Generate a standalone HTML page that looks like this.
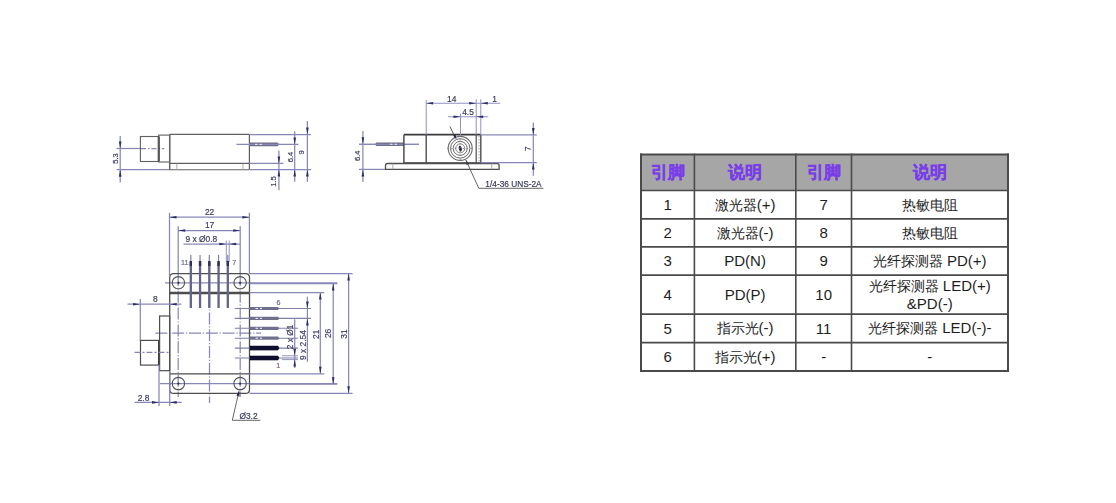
<!DOCTYPE html>
<html><head><meta charset="utf-8">
<style>
html,body{margin:0;padding:0;background:#fff;width:1116px;height:503px;overflow:hidden;position:relative}
body{font-family:"Liberation Sans",sans-serif;}
#drw{position:absolute;left:0;top:0;filter:blur(0.7px)}
.hd,.bd{position:absolute;display:flex;align-items:center;justify-content:center;text-align:center}
.hd{color:#7a3ee8;font-weight:bold;font-size:17px;-webkit-text-stroke:0.35px #7a3ee8}
.bd{color:#1e1e1e;font-size:15px;line-height:17px} .c{font-size:14.3px}
</style></head><body>
<svg id="drw" width="1116" height="503" viewBox="0 0 1116 503" font-family="Liberation Sans, sans-serif"><line x1="116.6" y1="148.5" x2="141" y2="148.5" stroke="#8888b8" stroke-width="1.25"/>
<line x1="141" y1="148.5" x2="164.3" y2="148.5" stroke="#8888b8" stroke-width="1.25" stroke-dasharray="5,2,1.5,2"/>
<line x1="116.6" y1="169.7" x2="170" y2="169.7" stroke="#8888b8" stroke-width="1.25"/>
<line x1="120.2" y1="136" x2="120.2" y2="182.5" stroke="#8888b8" stroke-width="1.25"/>
<polygon points="120.2,148.5 118.9,141.5 121.5,141.5" fill="#2c2c66"/>
<polygon points="120.2,169.7 118.9,176.7 121.5,176.7" fill="#2c2c66"/>
<text x="115.3" y="158.5" font-size="7.6" fill="#3a3a5e" stroke="#3a3a5e" stroke-width="0.18" text-anchor="middle" dominant-baseline="central" transform="rotate(-90 115.3 158.5)">5.3</text>
<rect x="140.4" y="136.5" width="18.3" height="25.0" rx="0" stroke="#606060" stroke-width="1.1" fill="none"/>
<line x1="158.7" y1="136.5" x2="158.7" y2="161.5" stroke="#333" stroke-width="2"/>
<rect x="158.7" y="135.1" width="11.0" height="26.9" rx="0" stroke="#606060" stroke-width="1.1" fill="none"/>
<line x1="169.7" y1="134.4" x2="169.7" y2="169.7" stroke="#666" stroke-width="1.5"/>
<line x1="169.7" y1="134.4" x2="249.4" y2="134.4" stroke="#606060" stroke-width="1.1"/>
<line x1="169.7" y1="163.4" x2="249.4" y2="163.4" stroke="#606060" stroke-width="1.1"/>
<line x1="169.7" y1="169.7" x2="249.4" y2="169.7" stroke="#606060" stroke-width="1.1"/>
<line x1="249.4" y1="134.4" x2="249.4" y2="169.7" stroke="#606060" stroke-width="1.2"/>
<line x1="176.8" y1="163.4" x2="176.8" y2="169.7" stroke="#999" stroke-width="0.8"/>
<line x1="243" y1="163.4" x2="243" y2="169.7" stroke="#999" stroke-width="0.8"/>
<path d="M249.4,142.6 H277.6 Q280,144.4 277.6,146.2 H249.4 Z" stroke="none" stroke-width="0" fill="#6e6e86" />
<line x1="236.4" y1="144.4" x2="298.4" y2="144.4" stroke="#8888b8" stroke-width="1.25"/>
<line x1="255" y1="144.4" x2="257.5" y2="144.4" stroke="#e6e6ee" stroke-width="1.1"/>
<line x1="259.5" y1="144.4" x2="262" y2="144.4" stroke="#e6e6ee" stroke-width="1.1"/>
<line x1="249.4" y1="134.5" x2="310.8" y2="134.5" stroke="#8888b8" stroke-width="1.25"/>
<line x1="249.4" y1="163.4" x2="283.4" y2="163.4" stroke="#8888b8" stroke-width="1.25"/>
<line x1="249.4" y1="169.6" x2="311.2" y2="169.6" stroke="#8888b8" stroke-width="1.25"/>
<line x1="278.9" y1="150.4" x2="278.9" y2="190.3" stroke="#8888b8" stroke-width="1.25"/>
<polygon points="278.9,163.4 277.6,156.4 280.2,156.4" fill="#2c2c66"/>
<polygon points="278.9,169.6 277.6,176.6 280.2,176.6" fill="#2c2c66"/>
<line x1="294.7" y1="131.3" x2="294.7" y2="181.8" stroke="#8888b8" stroke-width="1.25"/>
<polygon points="294.7,144.4 293.4,137.4 296.0,137.4" fill="#2c2c66"/>
<polygon points="294.7,169.6 293.4,176.6 296.0,176.6" fill="#2c2c66"/>
<line x1="307.4" y1="121" x2="307.4" y2="182" stroke="#8888b8" stroke-width="1.25"/>
<polygon points="307.4,134.5 306.1,127.5 308.7,127.5" fill="#2c2c66"/>
<polygon points="307.4,169.6 306.1,176.6 308.7,176.6" fill="#2c2c66"/>
<text x="273.6" y="181.5" font-size="7.6" fill="#3a3a5e" stroke="#3a3a5e" stroke-width="0.18" text-anchor="middle" dominant-baseline="central" transform="rotate(-90 273.6 181.5)">1.5</text>
<text x="290" y="157" font-size="7.6" fill="#3a3a5e" stroke="#3a3a5e" stroke-width="0.18" text-anchor="middle" dominant-baseline="central" transform="rotate(-90 290 157)">6.4</text>
<text x="301.7" y="152.5" font-size="7.6" fill="#3a3a5e" stroke="#3a3a5e" stroke-width="0.18" text-anchor="middle" dominant-baseline="central" transform="rotate(-90 301.7 152.5)">9</text>
<line x1="362.9" y1="131.1" x2="362.9" y2="181.9" stroke="#8888b8" stroke-width="1.25"/>
<polygon points="362.9,144.3 361.6,137.3 364.2,137.3" fill="#2c2c66"/>
<polygon points="362.9,169.4 361.6,176.4 364.2,176.4" fill="#2c2c66"/>
<text x="358" y="155.8" font-size="7.6" fill="#3a3a5e" stroke="#3a3a5e" stroke-width="0.18" text-anchor="middle" dominant-baseline="central" transform="rotate(-90 358 155.8)">6.4</text>
<line x1="359" y1="144.3" x2="419" y2="144.3" stroke="#8888b8" stroke-width="1.25"/>
<line x1="359" y1="169.4" x2="386" y2="169.4" stroke="#8888b8" stroke-width="1.25"/>
<path d="M403.9,142.5 H376.4 Q374,144.3 376.4,146.1 H403.9 Z" stroke="none" stroke-width="0" fill="#6e6e86" />
<line x1="359" y1="144.3" x2="419" y2="144.3" stroke="#8888b8" stroke-width="1.25"/>
<line x1="390" y1="144.3" x2="392.5" y2="144.3" stroke="#e6e6ee" stroke-width="1.1"/>
<line x1="394.5" y1="144.3" x2="397" y2="144.3" stroke="#e6e6ee" stroke-width="1.1"/>
<line x1="403.9" y1="134.7" x2="480.8" y2="134.7" stroke="#3a3a3a" stroke-width="1.8"/>
<line x1="403.9" y1="163.1" x2="480.8" y2="163.1" stroke="#3a3a3a" stroke-width="1.8"/>
<line x1="403.9" y1="134.7" x2="403.9" y2="163.1" stroke="#4d4d4d" stroke-width="1.5"/>
<line x1="426.2" y1="134.7" x2="426.2" y2="163.1" stroke="#4d4d4d" stroke-width="1.4"/>
<line x1="476.2" y1="134.7" x2="476.2" y2="163.1" stroke="#4d4d4d" stroke-width="1.2"/>
<line x1="480.8" y1="134.7" x2="480.8" y2="163.1" stroke="#4d4d4d" stroke-width="1.4"/>
<line x1="479" y1="136" x2="479" y2="162" stroke="#888" stroke-width="0.8" stroke-dasharray="1.5,1.5"/>
<path d="M385.5,169.4 V165.6 Q385.5,163.5 387.6,163.5 H497 Q499.1,163.5 499.1,165.6 V169.4 Z" stroke="#4d4d4d" stroke-width="1.3" fill="none" />
<line x1="392.9" y1="163.5" x2="392.9" y2="169.4" stroke="#999" stroke-width="0.8"/>
<line x1="491.7" y1="163.5" x2="491.7" y2="169.4" stroke="#999" stroke-width="0.8"/>
<circle cx="460.2" cy="148.4" r="12" stroke="#6a6a6a" stroke-width="1.1" fill="none"/>
<circle cx="460.2" cy="148.4" r="9.7" stroke="#6a6a6a" stroke-width="1.0" fill="none"/>
<circle cx="460.2" cy="148.4" r="7" stroke="#6a6a6a" stroke-width="1.0" fill="none"/>
<circle cx="460.2" cy="148.4" r="4.5" stroke="#777" stroke-width="0.9" fill="none"/>
<ellipse cx="460.3" cy="148.6" rx="1.5" ry="2.9" transform="rotate(-15 460.3 148.6)" fill="#202040"/>
<line x1="447" y1="148.4" x2="474" y2="148.4" stroke="#777" stroke-width="0.8" stroke-dasharray="1.5,2.4"/>
<line x1="460.2" y1="135" x2="460.2" y2="162" stroke="#777" stroke-width="0.8" stroke-dasharray="1.5,2.4"/>
<line x1="449.9" y1="126.5" x2="455.5" y2="138" stroke="#444" stroke-width="0.9"/>
<polygon points="456.5,139.5 453.05,135.62 455.57,134.39" fill="#222244"/>
<polygon points="465.8,159.9 469.18,163.84 466.65,165.02" fill="#222244"/>
<path d="M465.8,159.9 L478.8,188.3 H543.4" stroke="#555" stroke-width="0.9" fill="none" />
<text x="513.5" y="183.6" font-size="8.3" fill="#3a3a5a" stroke="#3a3a5a" stroke-width="0.18" text-anchor="middle" dominant-baseline="central">1/4-36 UNS-2A</text>
<line x1="426.2" y1="100" x2="426.2" y2="134.7" stroke="#9090c0" stroke-width="1.0"/>
<line x1="476.2" y1="99.3" x2="476.2" y2="134.7" stroke="#9090c0" stroke-width="1.0"/>
<line x1="480.8" y1="99.3" x2="480.8" y2="134.7" stroke="#9090c0" stroke-width="1.0"/>
<line x1="460.5" y1="113.5" x2="460.5" y2="136" stroke="#9090c0" stroke-width="1.0"/>
<line x1="426.2" y1="103.3" x2="500.2" y2="103.3" stroke="#9090c0" stroke-width="1.1"/>
<polygon points="426.2,103.3 433.2,102.0 433.2,104.6" fill="#2c2c66"/>
<polygon points="476.2,103.3 469.2,102.0 469.2,104.6" fill="#2c2c66"/>
<polygon points="480.8,103.3 487.8,102.0 487.8,104.6" fill="#2c2c66"/>
<text x="451.7" y="99" font-size="8.4" fill="#3a3a5e" stroke="#3a3a5e" stroke-width="0.18" text-anchor="middle" dominant-baseline="central">14</text>
<text x="494.6" y="98.8" font-size="8.4" fill="#3a3a5e" stroke="#3a3a5e" stroke-width="0.18" text-anchor="middle" dominant-baseline="central">1</text>
<line x1="448" y1="116.8" x2="488.3" y2="116.8" stroke="#9090c0" stroke-width="1.1"/>
<polygon points="460.5,116.8 453.5,115.5 453.5,118.1" fill="#2c2c66"/>
<polygon points="476.2,116.8 483.2,115.5 483.2,118.1" fill="#2c2c66"/>
<text x="468" y="112.3" font-size="8.4" fill="#3a3a5e" stroke="#3a3a5e" stroke-width="0.18" text-anchor="middle" dominant-baseline="central">4.5</text>
<line x1="480.8" y1="134.9" x2="536.8" y2="134.9" stroke="#8888b8" stroke-width="1.25"/>
<line x1="480.8" y1="162.6" x2="536.9" y2="162.6" stroke="#8888b8" stroke-width="1.25"/>
<line x1="533.3" y1="122.4" x2="533.3" y2="175.8" stroke="#8888b8" stroke-width="1.25"/>
<polygon points="533.3,134.9 532.0,127.9 534.6,127.9" fill="#2c2c66"/>
<polygon points="533.3,162.6 532.0,169.6 534.6,169.6" fill="#2c2c66"/>
<text x="528" y="148.6" font-size="8.4" fill="#3a3a5e" stroke="#3a3a5e" stroke-width="0.18" text-anchor="middle" dominant-baseline="central" transform="rotate(-90 528 148.6)">7</text>
<line x1="165" y1="282.9" x2="337.3" y2="282.9" stroke="#8888b8" stroke-width="1.25"/>
<line x1="160" y1="383.7" x2="337.3" y2="383.7" stroke="#8888b8" stroke-width="1.25"/>
<line x1="178.2" y1="226.2" x2="178.2" y2="274" stroke="#8888b8" stroke-width="1.25"/>
<line x1="240.2" y1="226.2" x2="240.2" y2="274" stroke="#8888b8" stroke-width="1.25"/>
<line x1="178.2" y1="274" x2="178.2" y2="397" stroke="#8888b8" stroke-width="1.25" stroke-dasharray="12,1.8,1.2,1.8"/>
<line x1="240.2" y1="274" x2="240.2" y2="397" stroke="#8888b8" stroke-width="1.25" stroke-dasharray="12,1.8,1.2,1.8"/>
<line x1="209.5" y1="262" x2="209.5" y2="403" stroke="#8888b8" stroke-width="1.25" stroke-dasharray="12,1.8,1.2,1.8"/>
<line x1="155.4" y1="333" x2="261" y2="333" stroke="#8888b8" stroke-width="1.25" stroke-dasharray="12,1.8,1.2,1.8"/>
<line x1="169.7" y1="292.4" x2="169.7" y2="373.8" stroke="#4d4d4d" stroke-width="1.3"/>
<line x1="249.5" y1="292.4" x2="249.5" y2="373.8" stroke="#4d4d4d" stroke-width="1.3"/>
<path d="M169.7,292.4 V277.6 Q169.7,273.6 173.7,273.6 H245.5 Q249.5,273.6 249.5,277.6 V292.4 Z" stroke="#4d4d4d" stroke-width="1.25" fill="none" />
<path d="M169.7,373.8 V389.4 Q169.7,393.4 173.7,393.4 H245.5 Q249.5,393.4 249.5,389.4 V373.8 Z" stroke="#4d4d4d" stroke-width="1.25" fill="none" />
<line x1="169.7" y1="293.6" x2="249.5" y2="293.6" stroke="#4d4d4d" stroke-width="1.2"/>
<circle cx="178.4" cy="282.8" r="6.2" stroke="#555" stroke-width="1.15" fill="none"/>
<circle cx="178.4" cy="282.8" r="0.9" stroke="#333" stroke-width="0.5" fill="#333"/>
<circle cx="240.1" cy="282.8" r="6.2" stroke="#555" stroke-width="1.15" fill="none"/>
<circle cx="240.1" cy="282.8" r="0.9" stroke="#333" stroke-width="0.5" fill="#333"/>
<circle cx="178.4" cy="383.6" r="6.2" stroke="#555" stroke-width="1.15" fill="none"/>
<circle cx="178.4" cy="383.6" r="0.9" stroke="#333" stroke-width="0.5" fill="#333"/>
<circle cx="240.1" cy="383.6" r="6.2" stroke="#555" stroke-width="1.15" fill="none"/>
<circle cx="240.1" cy="383.6" r="0.9" stroke="#333" stroke-width="0.5" fill="#333"/>
<line x1="169.5" y1="212.7" x2="169.5" y2="277" stroke="#8888b8" stroke-width="1.25"/>
<line x1="249.4" y1="212.7" x2="249.4" y2="274" stroke="#8888b8" stroke-width="1.25"/>
<line x1="169.5" y1="217.2" x2="249.4" y2="217.2" stroke="#8888b8" stroke-width="1.25"/>
<polygon points="169.5,217.2 176.5,215.9 176.5,218.5" fill="#2c2c66"/>
<polygon points="249.4,217.2 242.4,215.9 242.4,218.5" fill="#2c2c66"/>
<text x="209.6" y="212" font-size="8.4" fill="#3a3a5e" stroke="#3a3a5e" stroke-width="0.18" text-anchor="middle" dominant-baseline="central">22</text>
<line x1="178.2" y1="230.5" x2="240.2" y2="230.5" stroke="#8888b8" stroke-width="1.25"/>
<polygon points="178.2,230.5 185.2,229.2 185.2,231.8" fill="#2c2c66"/>
<polygon points="240.2,230.5 233.2,229.2 233.2,231.8" fill="#2c2c66"/>
<text x="209.6" y="225.4" font-size="8.4" fill="#3a3a5e" stroke="#3a3a5e" stroke-width="0.18" text-anchor="middle" dominant-baseline="central">17</text>
<line x1="183.5" y1="244" x2="240.3" y2="244" stroke="#8888b8" stroke-width="1.25"/>
<polygon points="226.3,244 219.3,242.7 219.3,245.3" fill="#2c2c66"/>
<polygon points="229.2,244 236.2,242.7 236.2,245.3" fill="#2c2c66"/>
<line x1="226.3" y1="240.5" x2="226.3" y2="262" stroke="#8888b8" stroke-width="0.9"/>
<line x1="229.2" y1="240.5" x2="229.2" y2="262" stroke="#8888b8" stroke-width="0.9"/>
<text x="201.3" y="239.2" font-size="8.4" fill="#3a3a5e" stroke="#3a3a5e" stroke-width="0.18" text-anchor="middle" dominant-baseline="central">9 x &#216;0.8</text>
<line x1="190.8" y1="254.9" x2="190.8" y2="308" stroke="#8080a8" stroke-width="1.2"/>
<line x1="190.8" y1="261.5" x2="190.8" y2="308" stroke="#64648a" stroke-width="2.3"/>
<line x1="190.8" y1="261" x2="190.8" y2="266" stroke="#303050" stroke-width="2.4"/>
<line x1="200.05" y1="254.9" x2="200.05" y2="308" stroke="#8080a8" stroke-width="1.2"/>
<line x1="200.05" y1="261.5" x2="200.05" y2="308" stroke="#64648a" stroke-width="2.3"/>
<line x1="200.05" y1="261" x2="200.05" y2="266" stroke="#303050" stroke-width="2.4"/>
<line x1="209.3" y1="254.9" x2="209.3" y2="308" stroke="#8080a8" stroke-width="1.2"/>
<line x1="209.3" y1="261.5" x2="209.3" y2="308" stroke="#64648a" stroke-width="2.3"/>
<line x1="209.3" y1="261" x2="209.3" y2="266" stroke="#303050" stroke-width="2.4"/>
<line x1="218.55" y1="254.9" x2="218.55" y2="308" stroke="#8080a8" stroke-width="1.2"/>
<line x1="218.55" y1="261.5" x2="218.55" y2="308" stroke="#64648a" stroke-width="2.3"/>
<line x1="218.55" y1="261" x2="218.55" y2="266" stroke="#303050" stroke-width="2.4"/>
<line x1="227.8" y1="254.9" x2="227.8" y2="308" stroke="#8080a8" stroke-width="1.2"/>
<line x1="227.8" y1="261.5" x2="227.8" y2="308" stroke="#64648a" stroke-width="2.3"/>
<line x1="227.8" y1="261" x2="227.8" y2="266" stroke="#303050" stroke-width="2.4"/>
<text x="184.8" y="262.3" font-size="7.2" fill="#6a6a8a" stroke="#6a6a8a" stroke-width="0.18" text-anchor="middle" dominant-baseline="central">11</text>
<text x="234.3" y="262.3" font-size="7.2" fill="#6a6a8a" stroke="#6a6a8a" stroke-width="0.18" text-anchor="middle" dominant-baseline="central">7</text>
<line x1="234.8" y1="308.5" x2="311" y2="308.5" stroke="#8080a8" stroke-width="1.1"/>
<path d="M250,306.9 H278 Q280,308.5 278,310.1 H250 Z" stroke="none" stroke-width="0" fill="#70708e" />
<line x1="255.5" y1="308.5" x2="258" y2="308.5" stroke="#e0e0ea" stroke-width="1.2"/>
<line x1="259.8" y1="308.5" x2="262" y2="308.5" stroke="#e0e0ea" stroke-width="1.2"/>
<line x1="234.8" y1="318.4" x2="311" y2="318.4" stroke="#8080a8" stroke-width="1.1"/>
<path d="M250,316.79999999999995 H278 Q280,318.4 278,320.0 H250 Z" stroke="none" stroke-width="0" fill="#70708e" />
<line x1="255.5" y1="318.4" x2="258" y2="318.4" stroke="#e0e0ea" stroke-width="1.2"/>
<line x1="259.8" y1="318.4" x2="262" y2="318.4" stroke="#e0e0ea" stroke-width="1.2"/>
<line x1="234.8" y1="328.3" x2="298" y2="328.3" stroke="#8080a8" stroke-width="1.1"/>
<path d="M250,326.7 H278 Q280,328.3 278,329.90000000000003 H250 Z" stroke="none" stroke-width="0" fill="#70708e" />
<line x1="255.5" y1="328.3" x2="258" y2="328.3" stroke="#e0e0ea" stroke-width="1.2"/>
<line x1="259.8" y1="328.3" x2="262" y2="328.3" stroke="#e0e0ea" stroke-width="1.2"/>
<line x1="234.8" y1="338.2" x2="298" y2="338.2" stroke="#8080a8" stroke-width="1.1"/>
<path d="M250,336.59999999999997 H278 Q280,338.2 278,339.8 H250 Z" stroke="none" stroke-width="0" fill="#70708e" />
<line x1="255.5" y1="338.2" x2="258" y2="338.2" stroke="#e0e0ea" stroke-width="1.2"/>
<line x1="259.8" y1="338.2" x2="262" y2="338.2" stroke="#e0e0ea" stroke-width="1.2"/>
<line x1="234.8" y1="348.1" x2="298" y2="348.1" stroke="#8080a8" stroke-width="1.1"/>
<path d="M250,346.1 H277.8 Q280.2,348.1 277.8,350.1 H250 Z" stroke="#0c0c28" stroke-width="0.6" fill="#10102e" />
<line x1="234.8" y1="358.0" x2="298" y2="358.0" stroke="#8080a8" stroke-width="1.1"/>
<path d="M250,356.0 H277.8 Q280.2,358.0 277.8,360.0 H250 Z" stroke="#0c0c28" stroke-width="0.6" fill="#10102e" />
<text x="278.4" y="302.3" font-size="7.2" fill="#6a6a8a" stroke="#6a6a8a" stroke-width="0.18" text-anchor="middle" dominant-baseline="central">6</text>
<text x="278.3" y="365.5" font-size="7.2" fill="#8a5a7a" stroke="#8a5a7a" stroke-width="0.18" text-anchor="middle" dominant-baseline="central">1</text>
<line x1="249.5" y1="273.5" x2="352.6" y2="273.5" stroke="#8888b8" stroke-width="1.25"/>
<line x1="249.5" y1="283.5" x2="337.3" y2="283.5" stroke="#8888b8" stroke-width="1.25"/>
<line x1="249.5" y1="292.6" x2="324.3" y2="292.6" stroke="#8888b8" stroke-width="1.25"/>
<line x1="249.5" y1="373.8" x2="324.3" y2="373.8" stroke="#8888b8" stroke-width="1.25"/>
<line x1="249.5" y1="384.2" x2="337.3" y2="384.2" stroke="#8888b8" stroke-width="1.25"/>
<line x1="249.5" y1="393.3" x2="352.6" y2="393.3" stroke="#8888b8" stroke-width="1.25"/>
<line x1="348.6" y1="273.5" x2="348.6" y2="393.3" stroke="#8888b8" stroke-width="1.25"/>
<polygon points="348.6,273.5 347.3,280.5 349.9,280.5" fill="#2c2c66"/>
<polygon points="348.6,393.3 347.3,386.3 349.9,386.3" fill="#2c2c66"/>
<line x1="333.2" y1="283.5" x2="333.2" y2="384.2" stroke="#8888b8" stroke-width="1.25"/>
<polygon points="333.2,283.5 331.9,290.5 334.5,290.5" fill="#2c2c66"/>
<polygon points="333.2,384.2 331.9,377.2 334.5,377.2" fill="#2c2c66"/>
<line x1="320.3" y1="292.6" x2="320.3" y2="373.8" stroke="#8888b8" stroke-width="1.25"/>
<polygon points="320.3,292.6 319.0,299.6 321.6,299.6" fill="#2c2c66"/>
<polygon points="320.3,373.8 319.0,366.8 321.6,366.8" fill="#2c2c66"/>
<text x="315.6" y="334.2" font-size="8.4" fill="#3a3a5e" stroke="#3a3a5e" stroke-width="0.18" text-anchor="middle" dominant-baseline="central" transform="rotate(-90 315.6 334.2)">21</text>
<text x="328.2" y="333.4" font-size="8.4" fill="#3a3a5e" stroke="#3a3a5e" stroke-width="0.18" text-anchor="middle" dominant-baseline="central" transform="rotate(-90 328.2 333.4)">26</text>
<text x="343.9" y="334" font-size="8.4" fill="#3a3a5e" stroke="#3a3a5e" stroke-width="0.18" text-anchor="middle" dominant-baseline="central" transform="rotate(-90 343.9 334)">31</text>
<line x1="307.4" y1="296.7" x2="307.4" y2="361.7" stroke="#8888b8" stroke-width="1.25"/>
<polygon points="307.4,308.5 306.1,301.5 308.7,301.5" fill="#2c2c66"/>
<polygon points="307.4,318.4 306.1,325.4 308.7,325.4" fill="#2c2c66"/>
<text x="302.5" y="345" font-size="8.4" fill="#3a3a5e" stroke="#3a3a5e" stroke-width="0.18" text-anchor="middle" dominant-baseline="central" transform="rotate(-90 302.5 345)">9 x 2.54</text>
<line x1="294.7" y1="319.2" x2="294.7" y2="368" stroke="#8888b8" stroke-width="1.25"/>
<line x1="282" y1="355.8" x2="298" y2="355.8" stroke="#8888b8" stroke-width="0.9"/>
<line x1="282" y1="359.6" x2="298" y2="359.6" stroke="#8888b8" stroke-width="0.9"/>
<polygon points="294.7,355.8 293.4,348.8 296.0,348.8" fill="#2c2c66"/>
<polygon points="294.7,359.6 293.4,366.6 296.0,366.6" fill="#2c2c66"/>
<text x="290" y="337" font-size="8.4" fill="#3a3a5e" stroke="#3a3a5e" stroke-width="0.18" text-anchor="middle" dominant-baseline="central" transform="rotate(-90 290 337)">2 x &#216;1</text>
<line x1="127.5" y1="304.2" x2="181.5" y2="304.2" stroke="#8888b8" stroke-width="1.25"/>
<polygon points="140.1,304.2 133.1,302.9 133.1,305.5" fill="#2c2c66"/>
<polygon points="169.7,304.2 176.7,302.9 176.7,305.5" fill="#2c2c66"/>
<line x1="140.3" y1="299" x2="140.3" y2="340.4" stroke="#8888b8" stroke-width="1.25"/>
<text x="155.3" y="298.5" font-size="8.4" fill="#3a3a5e" stroke="#3a3a5e" stroke-width="0.18" text-anchor="middle" dominant-baseline="central">8</text>
<rect x="140.5" y="340.4" width="18.5" height="24.7" rx="0" stroke="#4d4d4d" stroke-width="1.2" fill="none"/>
<line x1="159" y1="340.4" x2="159" y2="365.1" stroke="#333" stroke-width="1.8"/>
<rect x="159.6" y="316" width="10.1" height="54.7" rx="0" stroke="#4d4d4d" stroke-width="1.2" fill="none"/>
<line x1="134.5" y1="352.4" x2="169" y2="352.4" stroke="#8888b8" stroke-width="1.25" stroke-dasharray="6,2,2,2"/>
<line x1="159" y1="365" x2="159" y2="406" stroke="#8888b8" stroke-width="1.25"/>
<line x1="169.7" y1="371" x2="169.7" y2="406" stroke="#8888b8" stroke-width="1.25"/>
<line x1="134.5" y1="402.4" x2="181.7" y2="402.4" stroke="#8888b8" stroke-width="1.25"/>
<polygon points="159,402.4 152,401.1 152,403.7" fill="#2c2c66"/>
<polygon points="169.7,402.4 176.7,401.1 176.7,403.7" fill="#2c2c66"/>
<text x="143.5" y="397.6" font-size="8.4" fill="#3a3a5e" stroke="#3a3a5e" stroke-width="0.18" text-anchor="middle" dominant-baseline="central">2.8</text>
<polygon points="239.2,390.2 239.39,396.38 236.46,395.74" fill="#222244"/>
<path d="M238,395.5 L232.3,420.3 H260.3" stroke="#666" stroke-width="1.0" fill="none" />
<text x="248.5" y="415.6" font-size="8.4" fill="#3a3a5e" stroke="#3a3a5e" stroke-width="0.18" text-anchor="middle" dominant-baseline="central">&#216;3.2</text></svg>
<div style="position:absolute;left:641px;top:154.6px;width:367px;height:35.900000000000006px;background:#a6a6a6"></div><div class="hd" style="left:641px;top:154.6px;width:53.4px;height:35.9px"><div>引脚</div></div><div class="hd" style="left:694.4px;top:154.6px;width:101.4px;height:35.9px"><div>说明</div></div><div class="hd" style="left:795.8px;top:154.6px;width:55.7px;height:35.9px"><div>引脚</div></div><div class="hd" style="left:851.5px;top:154.6px;width:156.5px;height:35.9px"><div>说明</div></div><div class="bd" style="left:641px;top:190.5px;width:53.4px;height:28.3px"><div>1</div></div><div class="bd" style="left:694.4px;top:190.5px;width:101.4px;height:28.3px"><div><span class="c">激光器</span>(+)</div></div><div class="bd" style="left:795.8px;top:190.5px;width:55.7px;height:28.3px"><div>7</div></div><div class="bd" style="left:851.5px;top:190.5px;width:156.5px;height:28.3px"><div><span class="c">热敏电阻</span></div></div><div class="bd" style="left:641px;top:218.8px;width:53.4px;height:28.0px"><div>2</div></div><div class="bd" style="left:694.4px;top:218.8px;width:101.4px;height:28.0px"><div><span class="c">激光器</span>(-)</div></div><div class="bd" style="left:795.8px;top:218.8px;width:55.7px;height:28.0px"><div>8</div></div><div class="bd" style="left:851.5px;top:218.8px;width:156.5px;height:28.0px"><div><span class="c">热敏电阻</span></div></div><div class="bd" style="left:641px;top:246.8px;width:53.4px;height:28.4px"><div>3</div></div><div class="bd" style="left:694.4px;top:246.8px;width:101.4px;height:28.4px"><div>PD(N)</div></div><div class="bd" style="left:795.8px;top:246.8px;width:55.7px;height:28.4px"><div>9</div></div><div class="bd" style="left:851.5px;top:246.8px;width:156.5px;height:28.4px"><div><span class="c">光纤探测器</span> PD(+)</div></div><div class="bd" style="left:641px;top:275.2px;width:53.4px;height:38.9px"><div>4</div></div><div class="bd" style="left:694.4px;top:275.2px;width:101.4px;height:38.9px"><div>PD(P)</div></div><div class="bd" style="left:795.8px;top:275.2px;width:55.7px;height:38.9px"><div>10</div></div><div class="bd" style="left:851.5px;top:275.2px;width:156.5px;height:38.9px"><div><span class="c">光纤探测器</span> LED(+)<br>&amp;PD(-)</div></div><div class="bd" style="left:641px;top:314.1px;width:53.4px;height:28.6px"><div>5</div></div><div class="bd" style="left:694.4px;top:314.1px;width:101.4px;height:28.6px"><div><span class="c">指示光</span>(-)</div></div><div class="bd" style="left:795.8px;top:314.1px;width:55.7px;height:28.6px"><div>11</div></div><div class="bd" style="left:851.5px;top:314.1px;width:156.5px;height:28.6px"><div><span class="c">光纤探测器</span> LED(-)-</div></div><div class="bd" style="left:641px;top:342.7px;width:53.4px;height:28.3px"><div>6</div></div><div class="bd" style="left:694.4px;top:342.7px;width:101.4px;height:28.3px"><div><span class="c">指示光</span>(+)</div></div><div class="bd" style="left:795.8px;top:342.7px;width:55.7px;height:28.3px"><div>-</div></div><div class="bd" style="left:851.5px;top:342.7px;width:156.5px;height:28.3px"><div>-</div></div>
<svg width="1116" height="503" style="position:absolute;left:0;top:0"><line x1="640" y1="154.6" x2="1009" y2="154.6" stroke="#4a4a4a" stroke-width="2"/><line x1="640" y1="190.5" x2="1009" y2="190.5" stroke="#4a4a4a" stroke-width="1.7"/><line x1="640" y1="218.8" x2="1009" y2="218.8" stroke="#4a4a4a" stroke-width="1.7"/><line x1="640" y1="246.8" x2="1009" y2="246.8" stroke="#4a4a4a" stroke-width="1.7"/><line x1="640" y1="275.2" x2="1009" y2="275.2" stroke="#4a4a4a" stroke-width="1.7"/><line x1="640" y1="314.1" x2="1009" y2="314.1" stroke="#4a4a4a" stroke-width="1.7"/><line x1="640" y1="342.7" x2="1009" y2="342.7" stroke="#4a4a4a" stroke-width="1.7"/><line x1="640" y1="371" x2="1009" y2="371" stroke="#4a4a4a" stroke-width="2"/><line x1="641" y1="153.6" x2="641" y2="372" stroke="#4a4a4a" stroke-width="2"/><line x1="694.4" y1="153.6" x2="694.4" y2="372" stroke="#4a4a4a" stroke-width="1.6"/><line x1="795.8" y1="153.6" x2="795.8" y2="372" stroke="#4a4a4a" stroke-width="1.6"/><line x1="851.5" y1="153.6" x2="851.5" y2="372" stroke="#4a4a4a" stroke-width="1.6"/><line x1="1008" y1="153.6" x2="1008" y2="372" stroke="#4a4a4a" stroke-width="2"/></svg>
</body></html>
